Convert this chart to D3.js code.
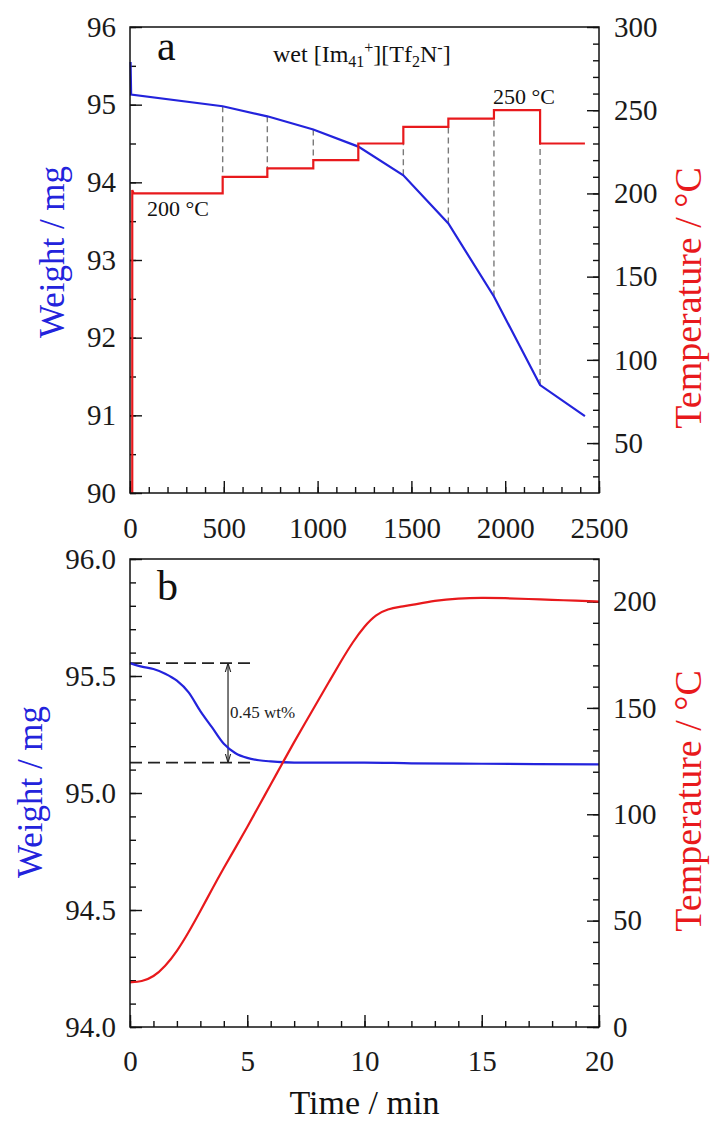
<!DOCTYPE html>
<html>
  <head>
    <style>
      body { margin: 0; background: #fff; }
      svg { display: block; }
    </style>
  </head>
  <body>
    <script src="https://d3js.org/d3.v7.min.js"></script>
    <svg></svg>
    <script>
      // panel a: isothermal steps, weight (mg) and temperature (degC) vs time (min)
      const weightTimeA = [3, 6, 494, 732, 977, 1217, 1457, 1697, 1940, 2186, 2425];
      const weightA = [95.55, 95.13, 94.98, 94.85, 94.68, 94.46, 94.09, 93.47, 92.53, 91.39, 90.99];
      const rampTimeA = [12, 12, 20];
      const rampTempA = [20, 202, 200];
      const stepTimeA = [20, 494, 732, 977, 1217, 1457, 1697, 1940, 2186, 2425];
      const stepTempA = [200, 210, 215, 220, 230, 240, 245, 250, 230];

      // panel b: first heating, time (min)
      const timeB = [0, 0.5, 1, 1.5, 2, 2.5, 3, 3.5, 4, 4.5, 5, 5.5, 6, 7, 8, 10, 12, 15, 20];
      const weightB = [95.555, 95.54, 95.53, 95.51, 95.48, 95.43, 95.35, 95.28, 95.21, 95.17, 95.15, 95.14, 95.135, 95.13, 95.13, 95.13, 95.127, 95.125, 95.122];
      const tempTimeB = [0, 0.5, 1, 1.5, 2, 2.5, 3, 3.5, 4, 4.5, 5, 5.5, 6, 6.5, 7, 7.5, 8, 8.5, 9, 9.5, 10, 10.5, 11, 11.5, 12, 13, 14, 15, 16, 17, 18, 19, 20];
      const tempB = [21, 21.3, 23.5, 28.5, 35.5, 44.5, 54.5, 64.8, 74.8, 84.3, 94, 104, 114, 124, 134, 143.5, 153, 162.5, 172, 181, 188.5, 194, 196.5, 197.5, 198.3, 200.5, 201.5, 201.8, 201.6, 201.2, 200.8, 200.4, 200];
      const lossLevelsB = [95.555, 95.13];
      const lossEndB = 5.2;
      const arrowTimeB = 4.18;

      // tick labels
      const xTicksA = [0, 500, 1000, 1500, 2000, 2500];
      const yTicksA = [90, 91, 92, 93, 94, 95, 96];
      const tTicksA = [50, 100, 150, 200, 250, 300];
      const xTicksB = [0, 5, 10, 15, 20];
      const yTicksB = [94.0, 94.5, 95.0, 95.5, 96.0];
      const tTicksB = [0, 50, 100, 150, 200];

      const serif = '"Liberation Serif", "Times New Roman", serif';
      const blue = "#2323dc";
      const red = "#e8191c";
      const left = 130, width = 469;

      const svg = d3.select("svg").attr("width", 718).attr("height", 1126);

      function addAxis(g, make, scale, majors, minors, fmt, pad, transform) {
        g.append("g").attr("transform", transform)
          .call(make(scale).tickValues(minors).tickSize(-6).tickSizeOuter(0).tickFormat(""))
          .call(a => a.select(".domain").remove())
          .selectAll("line").attr("stroke", "#111").attr("stroke-width", 1.4);
        const ax = g.append("g").attr("transform", transform)
          .call(make(scale).tickValues(majors).tickSize(-12).tickSizeOuter(0).tickPadding(pad).tickFormat(fmt));
        ax.select(".domain").remove();
        ax.selectAll("line").attr("stroke", "#111").attr("stroke-width", 1.4);
        ax.selectAll("text").attr("font-family", serif).attr("font-size", 29).attr("fill", "#1a1a1a");
      }

      function frame(g, h) {
        g.append("rect").attr("width", width).attr("height", h)
          .attr("fill", "none").attr("stroke", "#111").attr("stroke-width", 1.5);
      }

      // ---------- panel a ----------
      const hA = 466;
      const gA = svg.append("g").attr("transform", `translate(${left},27)`);
      const xA = d3.scaleLinear().domain([0, 2500]).range([0, width]);
      const yA = d3.scaleLinear().domain([90, 96]).range([hA, 0]);
      const tA = d3.scaleLinear().domain([20, 300]).range([hA, 0]);

      addAxis(gA, d3.axisBottom, xA, xTicksA, d3.range(0, 2501, 100), d3.format("d"), 24, `translate(0,${hA})`);
      addAxis(gA, d3.axisLeft, yA, yTicksA, d3.range(90, 96.01, 0.5), d3.format("d"), 14, "translate(0,0)");
      addAxis(gA, d3.axisRight, tA, tTicksA, d3.range(30, 301, 10), d3.format("d"), 15, `translate(${width},0)`);

      // dashed guides between weight curve and temperature step
      const guides = stepTimeA.slice(1, -1).map((t, i) => {
        const w = weightA[weightTimeA.indexOf(t)];
        const yw = yA(w);
        const y1 = tA(stepTempA[i]), y2 = tA(stepTempA[i + 1]);
        return { t: t, y0: yw, y1: Math.abs(y1 - yw) < Math.abs(y2 - yw) ? y1 : y2 };
      });
      gA.selectAll(".guide").data(guides).enter().append("line")
        .attr("x1", d => xA(d.t)).attr("x2", d => xA(d.t))
        .attr("y1", d => d.y0).attr("y2", d => d.y1)
        .attr("stroke", "#7a7a7a").attr("stroke-width", 1.4).attr("stroke-dasharray", "6,4");

      const lineA = d3.line().x(d => xA(d[0])).y(d => yA(d[1]));
      gA.append("path").datum(weightTimeA.map((t, i) => [t, weightA[i]]))
        .attr("d", lineA).attr("fill", "none").attr("stroke", blue).attr("stroke-width", 2.2);

      const tempPts = rampTimeA.map((t, i) => [t, rampTempA[i]]);
      stepTempA.forEach((T, i) => {
        tempPts.push([stepTimeA[i], T], [stepTimeA[i + 1], T]);
      });
      gA.append("path").datum(tempPts)
        .attr("d", d3.line().x(d => xA(d[0])).y(d => tA(d[1])))
        .attr("fill", "none").attr("stroke", red).attr("stroke-width", 2.2);

      frame(gA, hA);

      gA.append("text").attr("x", 27).attr("y", 33).attr("font-family", serif)
        .attr("font-size", 42).attr("fill", "#111").text("a");

      const lab = gA.append("text").attr("x", 143).attr("y", 35).attr("font-family", serif)
        .attr("font-size", 24).attr("fill", "#111");
      lab.append("tspan").text("wet [Im");
      lab.append("tspan").attr("font-size", 16).attr("dy", 5).text("41");
      lab.append("tspan").attr("font-size", 16).attr("dy", -14).text("+");
      lab.append("tspan").attr("dy", 9).text("][Tf");
      lab.append("tspan").attr("font-size", 16).attr("dy", 5).text("2");
      lab.append("tspan").attr("dy", -5).text("N");
      lab.append("tspan").attr("font-size", 16).attr("dy", -9).text("-");
      lab.append("tspan").attr("dy", 9).text("]");

      gA.append("text").attr("x", xA(90)).attr("y", tA(200) + 23).attr("font-family", serif)
        .attr("font-size", 22).attr("fill", "#111").text("200 °C");
      gA.append("text").attr("x", xA(1940) + 30).attr("y", tA(250) - 6).attr("font-family", serif)
        .attr("font-size", 22).attr("fill", "#111").attr("text-anchor", "middle").text("250 °C");

      // ---------- panel b ----------
      const hB = 468;
      const gB = svg.append("g").attr("transform", `translate(${left},559)`);
      const xB = d3.scaleLinear().domain([0, 20]).range([0, width]);
      const yB = d3.scaleLinear().domain([94, 96]).range([hB, 0]);
      const tB = d3.scaleLinear().domain([0, 220]).range([hB, 0]);

      addAxis(gB, d3.axisBottom, xB, xTicksB, d3.range(0, 21, 1), d3.format("d"), 23, `translate(0,${hB})`);
      addAxis(gB, d3.axisLeft, yB, yTicksB, d3.range(94, 96.001, 0.1), d3.format(".1f"), 14, "translate(0,0)");
      addAxis(gB, d3.axisRight, tB, tTicksB, d3.range(0, 221, 10), d3.format("d"), 14, `translate(${width},0)`);

      // mass loss annotation
      gB.selectAll(".loss").data(lossLevelsB).enter().append("line")
        .attr("x1", xB(0)).attr("x2", xB(lossEndB))
        .attr("y1", d => yB(d)).attr("y2", d => yB(d))
        .attr("stroke", "#222").attr("stroke-width", 1.6).attr("stroke-dasharray", "12,6");

      svg.append("defs").append("marker").attr("id", "arr")
        .attr("viewBox", "0 0 10 10").attr("refX", 10).attr("refY", 5)
        .attr("markerWidth", 9).attr("markerHeight", 9).attr("orient", "auto-start-reverse")
        .attr("markerUnits", "userSpaceOnUse")
        .append("path").attr("d", "M0,2 L10,5 L0,8").attr("fill", "none").attr("stroke", "#222").attr("stroke-width", 1.2);
      gB.append("line")
        .attr("x1", xB(arrowTimeB)).attr("x2", xB(arrowTimeB))
        .attr("y1", yB(lossLevelsB[0])).attr("y2", yB(lossLevelsB[1]))
        .attr("stroke", "#222").attr("stroke-width", 1.2)
        .attr("marker-start", "url(#arr)").attr("marker-end", "url(#arr)");
      gB.append("text").attr("x", xB(arrowTimeB) + 2).attr("y", yB(95.32)).attr("font-family", serif)
        .attr("font-size", 17).attr("fill", "#222").text("0.45 wt%");

      gB.append("path").datum(timeB.map((t, i) => [t, weightB[i]]))
        .attr("d", d3.line().curve(d3.curveMonotoneX).x(d => xB(d[0])).y(d => yB(d[1])))
        .attr("fill", "none").attr("stroke", blue).attr("stroke-width", 2.2);
      gB.append("path").datum(tempTimeB.map((t, i) => [t, tempB[i]]))
        .attr("d", d3.line().curve(d3.curveBasis).x(d => xB(d[0])).y(d => tB(d[1])))
        .attr("fill", "none").attr("stroke", red).attr("stroke-width", 2.2);

      frame(gB, hB);

      gB.append("text").attr("x", 27).attr("y", 41).attr("font-family", serif)
        .attr("font-size", 42).attr("fill", "#111").text("b");

      // ---------- axis titles ----------
      function vTitle(x, y, txt, color, size) {
        svg.append("text").attr("transform", `translate(${x},${y}) rotate(-90)`)
          .attr("text-anchor", "middle").attr("font-family", serif)
          .attr("font-size", size).attr("fill", color).text(txt);
      }
      vTitle(64, 252, "Weight / mg", blue, 35);
      vTitle(42, 792, "Weight / mg", blue, 35);
      vTitle(701, 298, "Temperature / °C", red, 38);
      vTitle(701, 801, "Temperature / °C", red, 38);

      svg.append("text").attr("x", left + width / 2).attr("y", 1114)
        .attr("text-anchor", "middle").attr("font-family", serif)
        .attr("font-size", 34).attr("fill", "#111").text("Time / min");
    </script>
  </body>
</html>
